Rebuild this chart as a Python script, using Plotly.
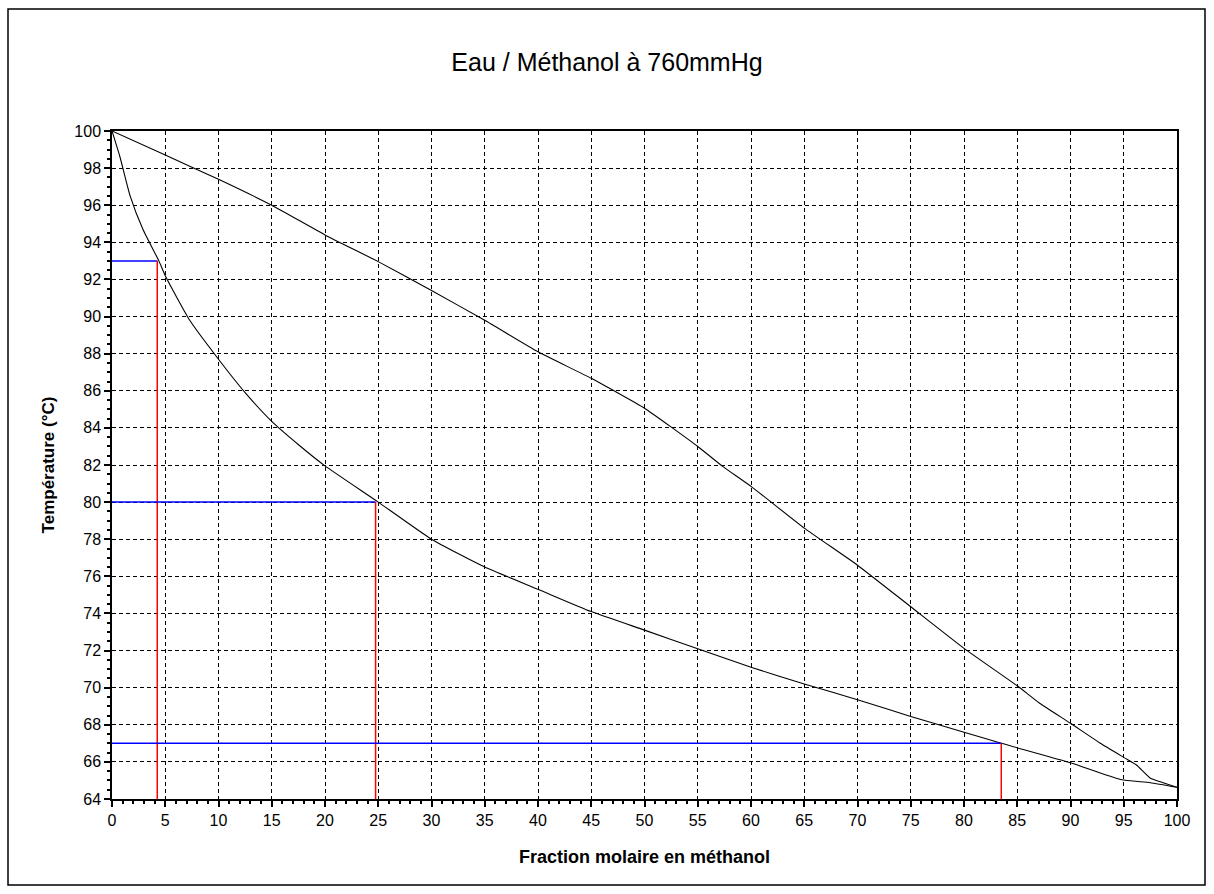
import plotly.graph_objects as go

# Courbe d'ébullition (liquide)
x_liq = [0, 0.75, 1.7, 2.9, 4.4, 5, 7.3, 10, 12.5, 15, 17.6, 20, 25, 30, 35, 40, 45,
         50, 55, 60, 65, 70, 75, 80, 83.5, 90, 94.7, 97.5, 100]
t_liq = [100, 98.6, 96.5, 94.7, 93.0, 92.2, 89.8, 87.7, 85.9, 84.35, 83.05, 81.95, 80.0,
         78.0, 76.5, 75.3, 74.1, 73.1, 72.1, 71.1, 70.2, 69.35, 68.45, 67.6, 67.0,
         65.95, 65.05, 64.88, 64.63]

# Courbe de rosée (vapeur)
x_vap = [0, 5, 10, 15, 20, 25, 30, 35, 40, 45, 50, 55, 57.4, 60, 65, 70, 75, 80, 85,
         87.1, 90, 92.8, 95.3, 96.2, 97.5, 98.7, 100]
t_vap = [100, 98.7, 97.4, 96.0, 94.4, 92.96, 91.4, 89.8, 88.1, 86.67, 85.06, 83.0,
         81.9, 80.85, 78.6, 76.6, 74.36, 72.12, 70.1, 69.16, 68.08, 67.0, 66.14,
         65.83, 65.12, 64.88, 64.63]

# Lectures sur le diagramme (x du point, température)
read_x = [4.25, 24.75, 83.5]
read_t = [93.0, 80.0, 67.0]

x_ticks = list(range(0, 101, 5))
y_ticks = list(range(64, 101, 2))

fig = go.Figure()
fig.add_trace(go.Scatter(x=x_liq, y=t_liq, mode="lines",
                         line=dict(color="black", width=1.1, shape="spline", smoothing=0.5),
                         showlegend=False))
fig.add_trace(go.Scatter(x=x_vap, y=t_vap, mode="lines",
                         line=dict(color="black", width=1.1, shape="spline", smoothing=0.4),
                         showlegend=False))
for xr, tr in zip(read_x, read_t):
    fig.add_trace(go.Scatter(x=[0, xr], y=[tr, tr], mode="lines",
                             line=dict(color="#0000ff", width=1.5), showlegend=False))
    fig.add_trace(go.Scatter(x=[xr, xr], y=[tr, 64], mode="lines",
                             line=dict(color="#ff0000", width=1.5), showlegend=False))

font_family = "Liberation Sans, Arial, sans-serif"

fig.update_layout(
    width=1214, height=894,
    margin=dict(l=112, r=37, t=131, b=95),
    paper_bgcolor="white", plot_bgcolor="white",
    font=dict(family=font_family, color="black", size=16),
    title=dict(text="Eau / Méthanol à 760mmHg", x=0.5, xref="container", xanchor="center",
               y=1 - 62 / 894, yref="container", yanchor="middle",
               font=dict(size=25, family=font_family, color="black")),
    showlegend=False,
)
fig.update_xaxes(
    range=[0, 100], tickvals=x_ticks, ticktext=[str(v) for v in x_ticks],
    showgrid=True, gridcolor="black", griddash="4px,3px", gridwidth=1,
    showline=True, linecolor="black", linewidth=1.5, mirror=True,
    ticks="outside", ticklen=6, tickcolor="black", tickwidth=1.5,
    minor=dict(dtick=1, ticks="outside", ticklen=3, tickcolor="black", showgrid=False),
    zeroline=False,
    title=dict(text="<b>Fraction molaire en méthanol</b>", standoff=22,
               font=dict(size=18, family=font_family)),
    tickfont=dict(size=16),
)
fig.update_yaxes(
    range=[64, 100], tickvals=y_ticks, ticktext=[str(v) for v in y_ticks],
    showgrid=True, gridcolor="black", griddash="4px,3px", gridwidth=1,
    showline=True, linecolor="black", linewidth=1.5, mirror=True,
    ticks="outside", ticklen=6, tickcolor="black", tickwidth=1.5,
    minor=dict(dtick=0.5, ticks="outside", ticklen=3, tickcolor="black", showgrid=False),
    zeroline=False,
    title=dict(text="<b>Température (°C)</b>", standoff=15,
               font=dict(size=17, family=font_family)),
    tickfont=dict(size=16),
)
# cadre extérieur du graphique
fig.add_shape(type="rect", xref="paper", yref="paper",
              x0=(8 - 112) / 1065, x1=(1205 - 112) / 1065,
              y0=(799 - 885) / 668, y1=(799 - 9) / 668,
              line=dict(color="black", width=1.5), layer="below")

fig.write_html("out.html")
